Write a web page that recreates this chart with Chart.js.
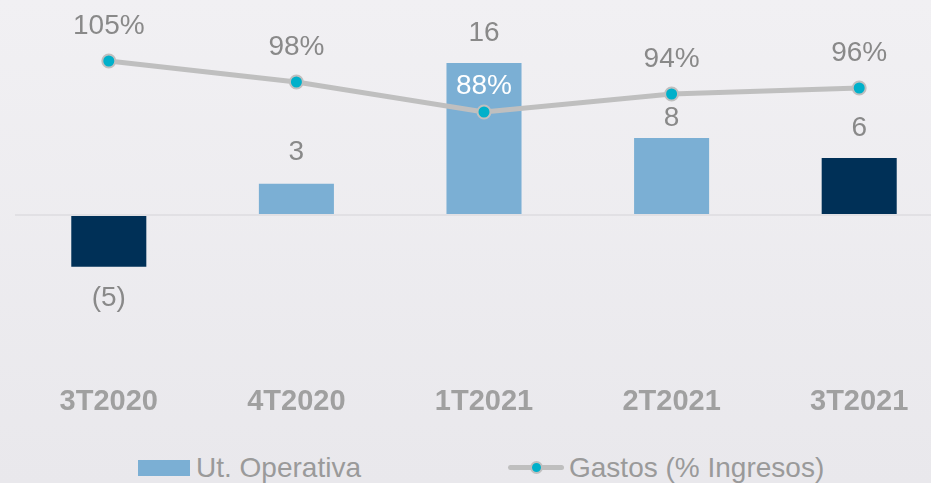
<!DOCTYPE html>
<html>
<head>
<meta charset="utf-8">
<title>Ut. Operativa y Gastos</title>
<script src="https://cdn.jsdelivr.net/npm/chart.js@4.4.1/dist/chart.umd.min.js"></script>
<style>
    html, body { margin: 0; padding: 0; }
    body {
        width: 931px;
        height: 483px;
        overflow: hidden;
        position: relative;
        background: linear-gradient(#f1f0f3, #e9e8ec);
        font-family: "Liberation Sans", Arial, sans-serif;
    }
    /* chart area runs a bit past the right edge, like the cropped original */
    #wrap { position: absolute; left: 0; top: 0; width: 953px; height: 440px; }
    .legend-item {
        position: absolute;
        top: 446px;
        height: 43px;
        display: flex;
        align-items: center;
        font-size: 28px;
        color: #9a9a9a;
        white-space: nowrap;
    }
    .box { width: 52px; height: 16px; background: #7bafd4; margin-right: 6px; }
    .line-icon { position: relative; width: 56px; height: 5px; border-radius: 3px; background: #bfbfbf; margin-right: 5px; }
    .line-icon span {
        position: absolute; left: 22px; top: -4px;
        width: 13px; height: 13px; box-sizing: border-box;
        border-radius: 50%; background: #00b0ca; border: 2px solid #bfbfbf;
    }
</style>
</head>
<body>
<div id="wrap"><canvas id="chart" width="953" height="440"></canvas></div>
<div class="legend-item" style="left:138px"><div class="box"></div><span id="leg-bar"></span></div>
<div class="legend-item" style="left:508px"><div class="line-icon"><span></span></div><span id="leg-line"></span></div>

<script>
const quarters = ['3T2020', '4T2020', '1T2021', '2T2021', '3T2021'];
const operatingProfit = [-5.45, 3.3, 16, 8.1, 6];
const expenseRatio = [105, 98, 88, 94, 96];
const seriesNames = ['Ut. Operativa', 'Gastos (% Ingresos)'];

const labelFont = '28px "Liberation Sans", Arial, sans-serif';
const labelGray = '#898989';

// value labels over the bars and the line points
const valueLabels = {
    id: 'valueLabels',
    afterDatasetsDraw(chart) {
        const ctx = chart.ctx;
        ctx.save();
        ctx.font = labelFont;
        ctx.textAlign = 'center';
        ctx.textBaseline = 'middle';

        const barGap = [32, 31, 30, 20, 30];
        chart.getDatasetMeta(1).data.forEach((bar, i) => {
            const v = operatingProfit[i];
            const text = v < 0 ? `(${Math.round(-v)})` : String(Math.round(v));
            const y = v < 0 ? bar.y + barGap[i] : bar.y - barGap[i];
            ctx.fillStyle = labelGray;
            ctx.fillText(text, bar.x, y);
        });

        chart.getDatasetMeta(0).data.forEach((pt, i) => {
            const inside = i === 2;
            ctx.fillStyle = inside ? '#ffffff' : labelGray;
            ctx.fillText(expenseRatio[i] + '%', pt.x, pt.y - (inside ? 26 : 35));
        });
        ctx.restore();
    }
};

const ctx = document.getElementById('chart').getContext('2d');
const chart = new Chart(ctx, {
    data: {
        labels: quarters,
        datasets: [{
            type: 'line',
            label: seriesNames[1],
            data: expenseRatio,
            yAxisID: 'y1',
            order: 0,
            borderColor: '#bfbfbf',
            borderWidth: 5,
            pointRadius: 6.5,
            pointBackgroundColor: '#00b0ca',
            pointBorderColor: '#bfbfbf',
            pointBorderWidth: 2,
            tension: 0
        }, {
            type: 'bar',
            label: seriesNames[0],
            data: operatingProfit,
            yAxisID: 'y',
            order: 1,
            backgroundColor: ['#003057', '#7bafd4', '#7bafd4', '#7bafd4', '#003057'],
            barPercentage: 0.4,
            categoryPercentage: 1
        }]
    },
    options: {
        responsive: false,
        animation: false,
        layout: { autoPadding: false, padding: { left: 15, right: 0, top: 0, bottom: 0 } },
        plugins: {
            legend: { display: false },
            tooltip: { enabled: false }
        },
        scales: {
            x: {
                grid: { display: false, drawTicks: false },
                border: { display: false },
                ticks: {
                    padding: 9,
                    color: '#a0a0a0',
                    font: { family: '"Liberation Sans", Arial, sans-serif', size: 29, weight: 'bold' }
                },
                afterFit: s => { s.height = 64; }
            },
            y: {
                display: true,
                min: -16.95,
                max: 22.63,
                afterBuildTicks: s => { s.ticks = [{ value: 0 }]; },
                grid: { color: '#e1e0e4', lineWidth: 2, drawTicks: false },
                border: { display: false },
                ticks: { display: false },
                afterFit: s => { s.width = 0; }
            },
            y1: {
                display: false,
                min: 0,
                max: 125.33
            }
        }
    },
    plugins: [valueLabels]
});

document.getElementById('leg-bar').textContent = seriesNames[0];
document.getElementById('leg-line').textContent = seriesNames[1];
</script>
</body>
</html>
